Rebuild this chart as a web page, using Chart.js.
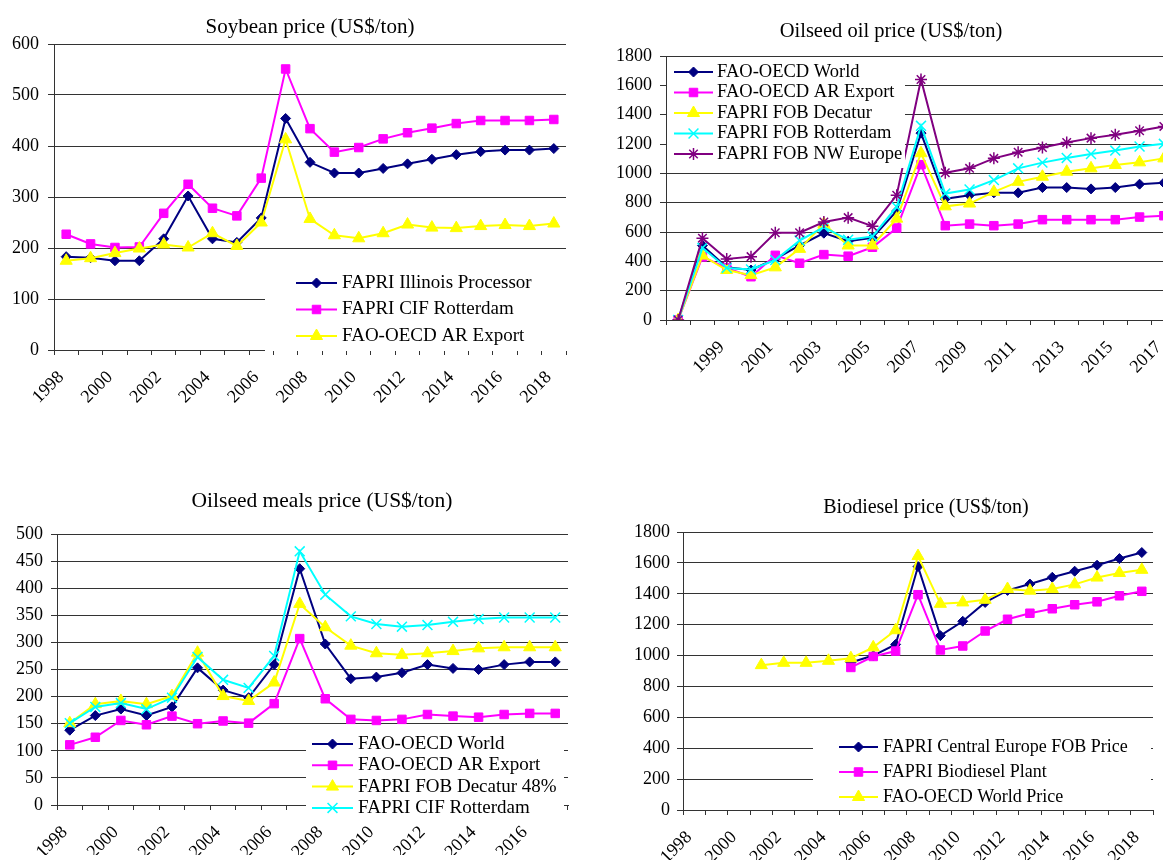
<!DOCTYPE html>
<html>
<head>
<meta charset="utf-8">
<title>Oilseed and biodiesel prices</title>
<script src="https://cdn.jsdelivr.net/npm/chart.js"></script>
<style>
  html, body { margin: 0; padding: 0; background: #fff; overflow: hidden; width: 1163px; height: 863px; }
  canvas { position: absolute; }
</style>
</head>
<body>
<canvas id="soy" width="580" height="430" style="left:0;top:0"></canvas>
<canvas id="oil" width="620" height="430" style="left:580px;top:0"></canvas>
<canvas id="meal" width="580" height="433" style="left:0;top:430px"></canvas>
<canvas id="bio" width="583" height="433" style="left:580px;top:430px"></canvas>
<script>
// ---- data (US$/ton) ----
const soyYears = ['1998','1999','2000','2001','2002','2003','2004','2005','2006','2007','2008','2009','2010','2011','2012','2013','2014','2015','2016','2017','2018'];
const soyIllinois   = [183, 181, 175, 175, 218, 302, 218, 211, 259, 454, 368, 347, 347, 356, 365, 374, 383, 389, 392, 392, 395];
const soyRotterdam  = [227, 208, 201, 202, 268, 325, 278, 263, 337, 551, 434, 388, 397, 414, 426, 435, 444, 450, 450, 450, 452];
const soyArExport   = [175, 180, 190, 199, 207, 201, 229, 204, 250, 413, 257, 225, 219, 229, 246, 240, 239, 243, 245, 243, 248];

const oilYears = ['','1998','1999','2000','2001','2002','2003','2004','2005','2006','2007','2008','2009','2010','2011','2012','2013','2014','2015','2016','2017'];
const oilWorld      = [0, 508, 359, 341, 416, 508, 592, 537, 560, 743, 1274, 826, 851, 867, 867, 903, 903, 894, 903, 926, 935];
const oilArExport   = [0, 430, 355, 295, 441, 387, 446, 435, 496, 627, 1059, 643, 654, 643, 654, 684, 684, 684, 684, 702, 711];
const oilDecatur    = [0, 439, 341, 306, 359, 485, 655, 508, 508, 691, 1137, 775, 794, 874, 942, 977, 1011, 1034, 1057, 1075, 1102];
const oilRotterdam  = [0, 492, 355, 345, 409, 542, 634, 547, 570, 771, 1324, 862, 890, 954, 1034, 1073, 1105, 1132, 1155, 1183, 1201];
const oilNwEurope   = [0, 558, 416, 432, 595, 595, 668, 698, 640, 851, 1640, 1004, 1034, 1102, 1144, 1176, 1210, 1240, 1263, 1290, 1320];

const mealYears = ['1998','1999','2000','2001','2002','2003','2004','2005','2006','2007','2008','2009','2010','2011','2012','2013','2014','2015','2016','2017'];
const mealWorld     = [138, 165, 177, 165, 181, 253, 212, 198, 259, 436, 297, 233, 236, 244, 259, 252, 250, 259, 264, 264];
const mealArExport  = [111, 125, 156, 148, 164, 150, 155, 151, 187, 307, 196, 158, 156, 158, 167, 164, 162, 167, 169, 169];
const mealDecatur   = [151, 186, 192, 186, 201, 281, 201, 192, 226, 371, 328, 294, 280, 277, 280, 284, 289, 291, 291, 291];
const mealRotterdam = [151, 181, 188, 177, 198, 273, 231, 216, 275, 468, 388, 348, 334, 329, 332, 338, 343, 346, 346, 346];

const bioYears = soyYears;
const bioCentralEurope = [null, null, null, null, null, null, null, 955, 1000, 1072, 1576, 1129, 1222, 1344, 1422, 1463, 1507, 1546, 1585, 1628, 1667];
const bioPlant         = [null, null, null, null, null, null, null, 923, 994, 1029, 1394, 1036, 1062, 1159, 1235, 1274, 1303, 1329, 1348, 1387, 1416];
const bioWorldPrice    = [null, null, null, 938, 953, 953, 966, 983, 1053, 1164, 1644, 1335, 1344, 1361, 1431, 1420, 1431, 1461, 1505, 1535, 1555];

// ---- styling ----
const SERIF = '"Liberation Serif", "Times New Roman", serif';
Chart.defaults.font.family = SERIF;
Chart.defaults.font.size = 18;
Chart.defaults.color = '#000';

const NAVY = '#000080', MAGENTA = '#ff00ff', YELLOW = '#ffff00', CYAN = '#00ffff', PURPLE = '#800080';
const GRID = '#333';

// title text placed freely over the canvas
const chartTitle = {
  id: 'chartTitle',
  afterDraw(chart, args, o) {
    const ctx = chart.ctx;
    ctx.save();
    ctx.font = o.size + 'px ' + SERIF;
    ctx.fillStyle = '#000';
    ctx.textAlign = 'center';
    ctx.textBaseline = 'middle';
    ctx.fillText(o.text, o.x, o.y);
    ctx.restore();
  }
};

// white legend box painted on top of the plot
const boxLegend = {
  id: 'boxLegend',
  afterDatasetsDraw(chart, args, o) {
    const ctx = chart.ctx;
    const [x0, y0, x1, y1] = o.box;
    ctx.save();
    ctx.fillStyle = '#fff';
    ctx.fillRect(x0, y0, x1 - x0, y1 - y0);
    ctx.font = o.fontSize + 'px ' + SERIF;
    ctx.textBaseline = 'middle';
    ctx.textAlign = 'left';
    chart.data.datasets.forEach((ds, i) => {
      const y = o.rowY + i * o.rowGap;
      ctx.strokeStyle = ds.borderColor;
      ctx.lineWidth = ds.borderWidth;
      ctx.beginPath();
      ctx.moveTo(o.lineX[0], y);
      ctx.lineTo(o.lineX[1], y);
      ctx.stroke();
      ctx.fillStyle = ds.pointBackgroundColor;
      ctx.strokeStyle = ds.pointBorderColor;
      ctx.lineWidth = ds.pointBorderWidth;
      Chart.helpers.drawPoint(ctx, {
        pointStyle: ds.pointStyle, radius: ds.pointRadius,
        borderWidth: ds.pointBorderWidth, rotation: 0
      }, (o.lineX[0] + o.lineX[1]) / 2, y);
      ctx.fillStyle = '#000';
      ctx.fillText(ds.label, o.textX, y);
    });
    ctx.restore();
  }
};

const MARKERS = {
  diamond:  { style: 'rectRot',  r: 5,   bw: 1 },
  square:   { style: 'rect',     r: 6,   bw: 1 },
  triangle: { style: 'triangle', r: 7,   bw: 1 },
  cross:    { style: 'crossRot', r: 7,   bw: 1.5 },
  star:     { style: 'star',     r: 6,   bw: 1.5 }
};

function series(label, data, color, marker, i) {
  const m = MARKERS[marker];
  return {
    label, data,
    borderColor: color, backgroundColor: color,
    pointBackgroundColor: color, pointBorderColor: color,
    pointStyle: m.style, pointRadius: m.r, pointBorderWidth: m.bw,
    borderWidth: 2, tension: 0, fill: false,
    order: -i   // later series are painted over earlier ones
  };
}

function build(id, c) {
  return new Chart(document.getElementById(id), {
    type: 'line',
    data: { labels: c.labels, datasets: c.datasets },
    options: {
      responsive: false,
      animation: false,
      events: [],
      layout: { padding: c.padding },
      plugins: {
        legend: { display: false },
        tooltip: { enabled: false },
        chartTitle: c.title,
        boxLegend: c.legend
      },
      scales: {
        x: {
          offset: true,
          grid: { offset: true, drawOnChartArea: false, tickLength: 5, color: GRID },
          border: { color: GRID },
          ticks: {
            autoSkip: false, minRotation: 45, maxRotation: 45, padding: 12, labelOffset: -5,
            callback(v, i) { return i % 2 === 0 ? this.getLabelForValue(v) : ''; }
          },
          afterFit(s) {
            s.height = c.xHeight;
            s.paddingLeft = s.paddingRight = s.paddingTop = s.paddingBottom = 0;
          }
        },
        y: {
          min: 0, max: c.yMax,
          ticks: { stepSize: c.yStep, padding: c.yPad, callback: v => String(v) },
          grid: { color: GRID, tickLength: 6 },
          border: { color: GRID },
          afterFit(s) {
            s.width = c.yWidth;
            s.paddingLeft = s.paddingRight = s.paddingTop = s.paddingBottom = 0;
          }
        }
      }
    },
    plugins: [chartTitle, boxLegend]
  });
}

build('soy', {
  labels: soyYears,
  datasets: [
    series('FAPRI Illinois Processor', soyIllinois, NAVY, 'diamond', 0),
    series('FAPRI CIF Rotterdam', soyRotterdam, MAGENTA, 'square', 1),
    series('FAO-OECD AR Export', soyArExport, YELLOW, 'triangle', 2)
  ],
  padding: { left: 0, right: 14, top: 44, bottom: 20 },
  xHeight: 60, yWidth: 54, yPad: 9, yMax: 600, yStep: 100,
  title: { text: 'Soybean price (US$/ton)', x: 310, y: 27, size: 21 },
  legend: { box: [265, 264, 567, 351], lineX: [296, 337], textX: 342, rowY: 283, rowGap: 26.5, fontSize: 19 }
});

build('oil', {
  labels: oilYears,
  datasets: [
    series('FAO-OECD World', oilWorld, NAVY, 'diamond', 0),
    series('FAO-OECD AR Export', oilArExport, MAGENTA, 'square', 1),
    series('FAPRI FOB Decatur', oilDecatur, YELLOW, 'triangle', 2),
    series('FAPRI FOB Rotterdam', oilRotterdam, CYAN, 'cross', 3),
    series('FAPRI FOB NW Europe', oilNwEurope, PURPLE, 'star', 4)
  ],
  padding: { left: 0, right: 24, top: 56, bottom: 50 },
  xHeight: 60, yWidth: 86, yPad: 8, yMax: 1800, yStep: 200,
  title: { text: 'Oilseed oil price (US$/ton)', x: 311, y: 32, size: 20.5 },
  legend: { box: [87, 57.5, 325, 168], lineX: [94, 133], textX: 137, rowY: 72, rowGap: 20.5, fontSize: 18.5 }
});

build('meal', {
  labels: mealYears,
  datasets: [
    series('FAO-OECD World', mealWorld, NAVY, 'diamond', 0),
    series('FAO-OECD AR Export', mealArExport, MAGENTA, 'square', 1),
    series('FAPRI FOB Decatur 48%', mealDecatur, YELLOW, 'triangle', 2),
    series('FAPRI CIF Rotterdam', mealRotterdam, CYAN, 'cross', 3)
  ],
  padding: { left: 0, right: 12, top: 104, bottom: 8 },
  xHeight: 50, yWidth: 57, yPad: 8, yMax: 500, yStep: 50,
  title: { text: 'Oilseed meals price (US$/ton)', x: 322, y: 71, size: 21.5 },
  legend: { box: [306, 305, 564, 390], lineX: [312, 353], textX: 358, rowY: 314, rowGap: 21.3, fontSize: 19 }
});

build('bio', {
  labels: bioYears,
  datasets: [
    series('FAPRI Central Europe FOB Price', bioCentralEurope, NAVY, 'diamond', 0),
    series('FAPRI Biodiesel Plant', bioPlant, MAGENTA, 'square', 1),
    series('FAO-OECD World Price', bioWorldPrice, YELLOW, 'triangle', 2)
  ],
  padding: { left: 0, right: 10, top: 102, bottom: 3 },
  xHeight: 50, yWidth: 103, yPad: 7, yMax: 1800, yStep: 200,
  title: { text: 'Biodiesel price (US$/ton)', x: 346, y: 78, size: 20 },
  legend: { box: [233, 303, 571, 376], lineX: [259, 298], textX: 303, rowY: 317, rowGap: 25, fontSize: 18 }
});
</script>
</body>
</html>
